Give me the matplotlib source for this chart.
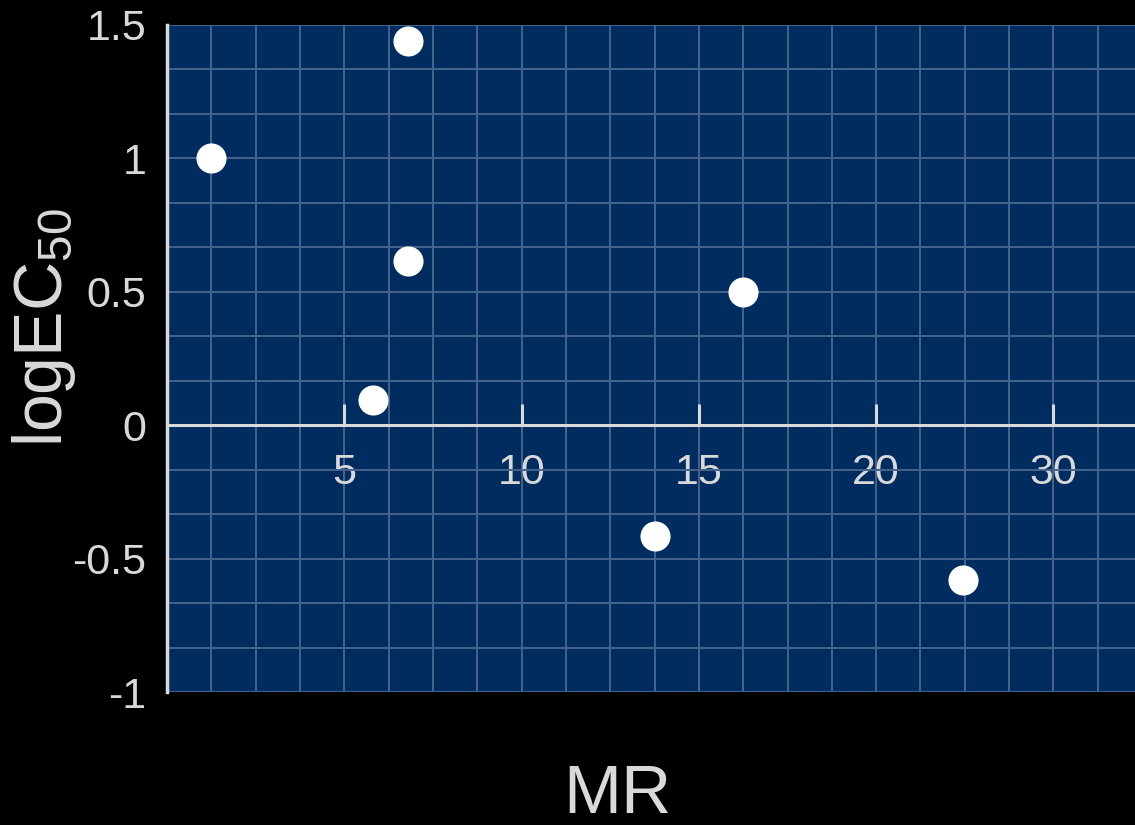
import numpy as np
import matplotlib
matplotlib.use("Agg")
import matplotlib.pyplot as plt

# Data (MR vs logEC50)
mr_values = [1.25, 6.8, 6.8, 5.8, 16.25, 13.75, 24.9]
log_ec50 = [1.0, 1.44, 0.615, 0.095, 0.5, -0.415, -0.58]
x_tick_values = [5, 10, 15, 20, 30]
x_tick_labels = ["5", "10", "15", "20", "30"]
y_tick_values = [-1, -0.5, 0, 0.5, 1, 1.5]
y_tick_labels = ["-1", "-0.5", "0", "0.5", "1", "1.5"]

plt.rcParams['font.family'] = ['Liberation Sans', 'DejaVu Sans']
plt.rcParams['mathtext.fontset'] = 'custom'
plt.rcParams['mathtext.rm'] = 'Liberation Sans'

TXT = '#d9d9d9'
BG = '#002c60'
GRID = '#45638b'


def fwd(x):
    x = np.asarray(x, dtype=float)
    return np.where(x <= 20, x, 20 + (x - 20) / 2.0)


def inv(y):
    y = np.asarray(y, dtype=float)
    return np.where(y <= 20, y, 20 + (y - 20) * 2.0)


fig = plt.figure(figsize=(11.35, 8.25), dpi=100, facecolor='black')
ax = fig.add_axes([167 / 1135, 1 - 692 / 825, (1135 - 167) / 1135, (692 - 25) / 825])
ax.set_facecolor(BG)
ax.set_xscale('function', functions=(fwd, inv))
ax.set_xlim(0, 34.6)
ax.set_ylim(-1, 1.5)

# grid positions (minor) in data units
gx_disp = np.arange(0, 27.5, 1.25)
ax.set_xticks(inv(gx_disp), minor=True)
ax.set_yticks(np.arange(-1, 1.51, 0.5 / 3), minor=True)
ax.grid(which='both', color=GRID, linewidth=1.4, zorder=0)
ax.set_axisbelow(True)

ax.set_xticks(x_tick_values)
ax.set_xticklabels(x_tick_labels)
ax.set_yticks(y_tick_values)
ax.set_yticklabels(y_tick_labels)

ax.tick_params(axis='x', which='major', direction='in', length=15, width=2.2,
               color=TXT, labelcolor=TXT, labelsize=31, pad=20)
ax.tick_params(axis='x', which='minor', length=0)
ax.tick_params(axis='y', which='both', length=0, labelcolor=TXT, labelsize=31, pad=15)

for s in ['top', 'right']:
    ax.spines[s].set_visible(False)
ax.spines['bottom'].set_position(('data', 0))
ax.spines['bottom'].set_color(TXT)
ax.spines['bottom'].set_linewidth(2.2)
ax.spines['left'].set_color(TXT)
ax.spines['left'].set_linewidth(2.5)

ax.scatter(mr_values, log_ec50, s=470, color='white', zorder=5, linewidths=0, clip_on=False)

fig.text(44 / 1135, 1 - 328 / 825, r'$\mathregular{logEC_{50}}$', rotation=90,
         color=TXT, fontsize=49, ha='center', va='center')
fig.text(617 / 1135, 1 - 795 / 825, 'MR', color=TXT, fontsize=50,
         ha='center', va='center')

fig.savefig('out.png', dpi=100, facecolor='black')
